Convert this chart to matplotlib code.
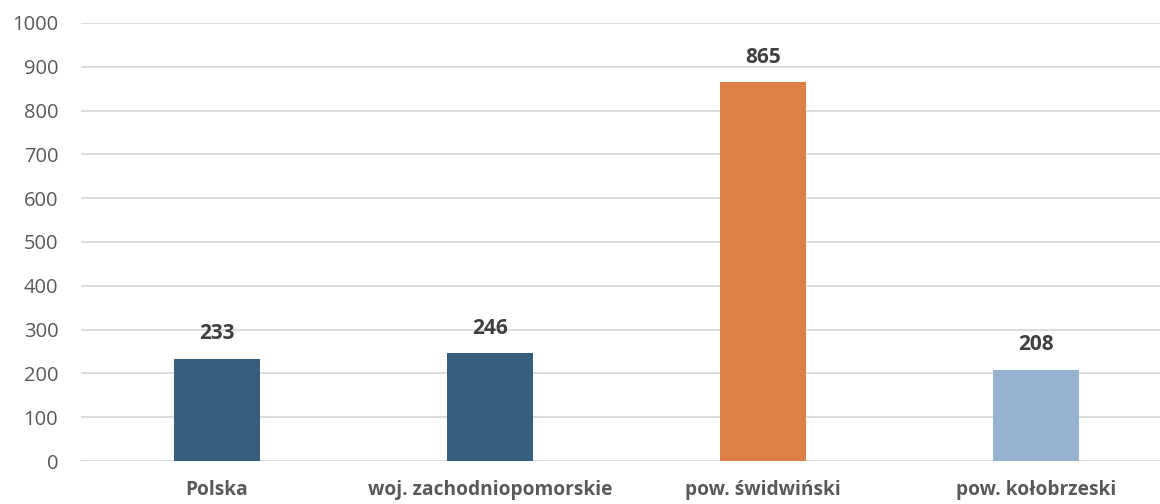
import matplotlib
matplotlib.use("Agg")
import matplotlib.pyplot as plt

categories = ["Polska", "woj. zachodniopomorskie", "pow. świdwiński", "pow. kołobrzeski"]
values = [233, 246, 865, 208]
bar_colors = ["#365E7F", "#365E7F", "#DD8047", "#95B3D0"]
yticks = [0, 100, 200, 300, 400, 500, 600, 700, 800, 900, 1000]

plt.rcParams['font.family'] = ['Open Sans', 'DejaVu Sans']

fig = plt.figure(figsize=(11.6, 5.04), dpi=100)
ax = fig.add_axes([0.0694, 0.0853, 0.9414, 0.8691])

x = list(range(len(categories)))
bars = ax.bar(x, values, width=0.315, color=bar_colors, zorder=3)

ax.set_xlim(-0.5, len(categories) - 0.5)
ax.set_ylim(0, 1000)
ax.set_yticks(yticks)
ax.set_yticklabels([str(t) for t in yticks], fontsize=14.5, color="#595959")
ax.set_xticks(x)
ax.set_xticklabels(categories, fontsize=13.8, fontweight="bold", color="#595959")
ax.tick_params(axis="both", length=0)
ax.tick_params(axis="y", pad=16)
ax.tick_params(axis="x", pad=14)

ax.grid(axis="y", color="#D9D9D9", linewidth=1.3, zorder=0)
ax.set_axisbelow(True)
for s in ax.spines.values():
    s.set_visible(False)

for xi, v in zip(x, values):
    ax.annotate(str(v), (xi, v), xytext=(0, 18), textcoords="offset points",
                ha="center", va="center", fontsize=15, fontweight="bold", color="#404040")

fig.savefig("out.png", dpi=100, facecolor="white")
